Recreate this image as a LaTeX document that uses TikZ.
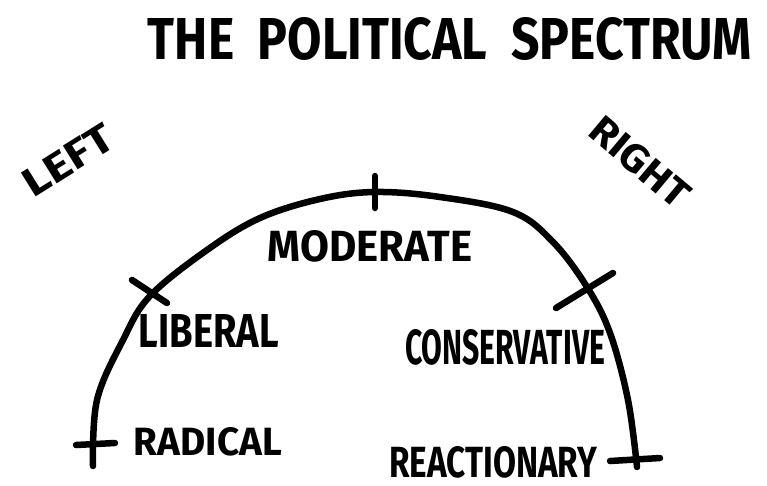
\documentclass[tikz,border=0pt]{standalone}
\usepackage{fontspec}
\setmainfont{Fira Sans}
\newcommand{\fitlab}[3]{\resizebox{#1pt}{#2pt}{\bfseries #3}}
\tikzset{
  penline/.style={line width=6.5pt, line cap=round, line join=round, black},
  ticker/.style={line width=6.5pt, line cap=round, black},
  lab/.style={inner sep=0pt, text=black}
}
\begin{document}
\begin{tikzpicture}[x=1pt,y=-1pt]
\useasboundingbox[fill=white] (0,0) rectangle (767,485);
% title
\node[lab] (title) at (450,39) {\resizebox{604pt}{42pt}{\bfseries THE\ \ POLITICAL\ \ SPECTRUM}};
% side labels
\node[lab, rotate=32] (left) at (68,160) {\fitlab{100}{28}{LEFT}};
\node[lab, rotate=-40] (right) at (640,162) {\fitlab{118}{28}{RIGHT}};
% arc
\draw[penline] plot[smooth, tension=0.6] coordinates {
 (93,466) (97,400) (123,340) (150,296) (207,250) (260,218) (320,199) (375,192)
 (440,197) (513,212) (553,242) (587,287) (610,333) (628,400) (637,467)};
% ticks
\coordinate (t1a) at (76,445); \coordinate (t1b) at (115,443);
\coordinate (t2a) at (375,176); \coordinate (t2b) at (375,208);
\coordinate (t3a) at (132,280); \coordinate (t3b) at (167,303);
\coordinate (t4a) at (556,308); \coordinate (t4b) at (613,273);
\coordinate (t5a) at (610,461); \coordinate (t5b) at (660,458);
\draw[ticker] (t1a) -- (t1b);
\draw[ticker] (t2a) -- (t2b);
\draw[ticker] (t3a) -- (t3b);
\draw[ticker] (t4a) -- (t4b);
\draw[ticker] (t5a) -- (t5b);
% position labels
\node[lab] (moderate) at (370,246) {\fitlab{204}{31}{MODERATE}};
\node[lab] (liberal) at (209,331) {\fitlab{140}{33}{LIBERAL}};
\node[lab] (conservative) at (505,347) {\fitlab{200}{35}{CONSERVATIVE}};
\node[lab] (radical) at (208,442) {\fitlab{148}{28}{RADICAL}};
\node[lab] (reactionary) at (493,462) {\fitlab{208}{31}{REACTIONARY}};
\end{tikzpicture}
\end{document}
